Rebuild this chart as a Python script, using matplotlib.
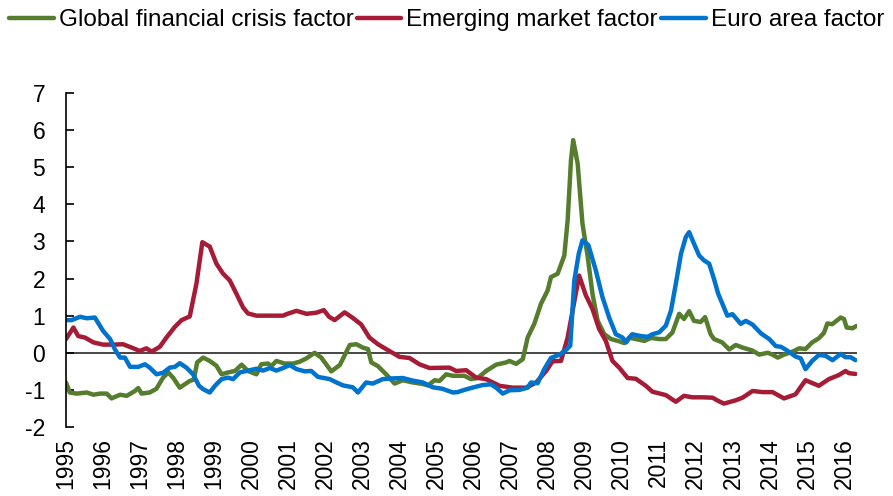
import matplotlib
matplotlib.use("Agg")
import matplotlib.pyplot as plt

plt.rcParams['font.family'] = ['Liberation Sans', 'DejaVu Sans']
plt.rcParams['axes.unicode_minus'] = False

series_names = ["Global financial crisis factor", "Emerging market factor", "Euro area factor"]
years = list(range(1995, 2017))

gfc_t = [1995.0, 1995.1, 1995.29, 1995.56, 1995.74, 1995.92, 1996.1, 1996.23, 1996.46, 1996.64,
         1996.86, 1996.95, 1997.04, 1997.26, 1997.44, 1997.62, 1997.76, 1997.89, 1998.07, 1998.34,
         1998.45, 1998.54, 1998.7, 1998.88, 1999.06, 1999.2, 1999.37, 1999.56, 1999.74, 1999.91,
         2000.14, 2000.27, 2000.45, 2000.54, 2000.68, 2000.9, 2001.13, 2001.31, 2001.49, 2001.71,
         2001.89, 2002.16, 2002.39, 2002.66, 2002.84, 2003.01, 2003.15, 2003.24, 2003.42, 2003.64,
         2003.87, 2004.09, 2004.36, 2004.63, 2004.77, 2004.95, 2005.08, 2005.26, 2005.44, 2005.6,
         2005.75, 2005.93, 2006.11, 2006.34, 2006.61, 2006.88, 2006.97, 2007.15, 2007.33, 2007.46,
         2007.64, 2007.82, 2008.0, 2008.09, 2008.27, 2008.45, 2008.54, 2008.63, 2008.69, 2008.81,
         2008.94, 2009.08, 2009.21, 2009.35, 2009.53, 2009.71, 2009.93, 2010.07, 2010.2, 2010.38,
         2010.61, 2010.79, 2011.01, 2011.19, 2011.37, 2011.55, 2011.68, 2011.82, 2011.95, 2012.13,
         2012.25, 2012.4, 2012.49, 2012.71, 2012.9, 2013.08, 2013.26, 2013.53, 2013.71, 2013.94,
         2014.07, 2014.21, 2014.38, 2014.61, 2014.79, 2014.96, 2015.14, 2015.32, 2015.46, 2015.55,
         2015.68, 2015.91, 2016.0, 2016.07, 2016.23, 2016.33]
gfc_v = [-0.8, -1.07, -1.1, -1.07, -1.13, -1.1, -1.1, -1.23, -1.13, -1.16,
         -1.03, -0.95, -1.1, -1.07, -0.97, -0.67, -0.53, -0.67, -0.94, -0.76,
         -0.72, -0.26, -0.13, -0.22, -0.35, -0.58, -0.53, -0.49, -0.32, -0.49,
         -0.58, -0.31, -0.29, -0.36, -0.22, -0.29, -0.29, -0.24, -0.15, 0.0,
         -0.13, -0.5, -0.33, 0.21, 0.23, 0.14, 0.10, -0.26, -0.36, -0.58,
         -0.83, -0.74, -0.80, -0.84, -0.88, -0.74, -0.76, -0.58, -0.62, -0.62,
         -0.62, -0.71, -0.68, -0.49, -0.32, -0.26, -0.22, -0.30, -0.17, 0.41,
         0.78, 1.32, 1.68, 2.04, 2.13, 2.62, 3.57, 5.19, 5.73, 5.1,
         3.48, 2.6, 1.59, 0.86, 0.5, 0.37, 0.31, 0.26, 0.41, 0.37,
         0.32, 0.40, 0.37, 0.37, 0.55, 1.05, 0.91, 1.12, 0.86, 0.83,
         0.96, 0.50, 0.37, 0.28, 0.09, 0.21, 0.14, 0.06, -0.05, 0.0,
         -0.05, -0.13, -0.05, 0.03, 0.12, 0.10, 0.28, 0.39, 0.54, 0.79,
         0.77, 0.95, 0.91, 0.68, 0.66, 0.72]

em_t = [1995.0, 1995.2, 1995.33, 1995.51, 1995.74, 1996.0, 1996.27, 1996.54, 1996.77, 1996.99,
        1997.17, 1997.31, 1997.53, 1997.71, 1997.94, 1998.12, 1998.34, 1998.52, 1998.68, 1998.88,
        1999.06, 1999.24, 1999.42, 1999.6, 1999.78, 1999.91, 2000.14, 2000.86, 2000.95, 2001.22,
        2001.49, 2001.76, 2001.96, 2002.1, 2002.25, 2002.52, 2002.74, 2002.97, 2003.19, 2003.42,
        2003.64, 2004.0, 2004.27, 2004.54, 2004.81, 2005.35, 2005.53, 2005.8, 2006.07, 2006.34,
        2006.7, 2007.06, 2007.42, 2007.69, 2007.96, 2008.13, 2008.36, 2008.54, 2008.69, 2008.85,
        2009.03, 2009.21, 2009.39, 2009.57, 2009.75, 2009.93, 2010.16, 2010.38, 2010.65, 2010.83,
        2011.19, 2011.46, 2011.68, 2011.91, 2012.18, 2012.45, 2012.61, 2012.76, 2013.08, 2013.26,
        2013.53, 2013.8, 2014.07, 2014.38, 2014.69, 2014.96, 2015.32, 2015.59, 2015.86, 2016.04,
        2016.13, 2016.31]
em_v = [0.37, 0.68, 0.45, 0.41, 0.28, 0.22, 0.22, 0.23, 0.14, 0.05,
        0.12, 0.03, 0.16, 0.41, 0.70, 0.88, 0.98, 1.86, 2.98, 2.86,
        2.4, 2.13, 1.95, 1.59, 1.22, 1.06, 1.0, 1.0, 1.04, 1.13,
        1.05, 1.08, 1.15, 0.97, 0.88, 1.09, 0.94, 0.76, 0.41, 0.23,
        0.10, -0.11, -0.14, -0.31, -0.41, -0.40, -0.49, -0.47, -0.67, -0.71,
        -0.89, -0.94, -0.94, -0.80, -0.49, -0.23, -0.22, 0.41, 1.22, 2.08,
        1.55, 1.18, 0.64, 0.32, -0.22, -0.40, -0.68, -0.70, -0.89, -1.05,
        -1.14, -1.32, -1.16, -1.20, -1.20, -1.21, -1.30, -1.37, -1.28, -1.21,
        -1.03, -1.06, -1.06, -1.23, -1.12, -0.74, -0.89, -0.71, -0.60, -0.49,
        -0.55, -0.57]

ea_t = [1995.0, 1995.15, 1995.38, 1995.56, 1995.78, 1996.0, 1996.19, 1996.32, 1996.46, 1996.59,
        1996.73, 1996.95, 1997.13, 1997.26, 1997.44, 1997.62, 1997.8, 1997.94, 1998.07, 1998.25,
        1998.43, 1998.59, 1998.7, 1998.88, 1999.02, 1999.2, 1999.37, 1999.51, 1999.69, 1999.87,
        2000.14, 2000.32, 2000.5, 2000.68, 2000.86, 2001.04, 2001.22, 2001.44, 2001.62, 2001.8,
        2002.12, 2002.3, 2002.48, 2002.74, 2002.88, 2003.1, 2003.28, 2003.55, 2003.82, 2004.09,
        2004.36, 2004.63, 2004.9, 2005.16, 2005.44, 2005.57, 2005.75, 2005.97, 2006.24, 2006.47,
        2006.61, 2006.79, 2006.97, 2007.24, 2007.46, 2007.55, 2007.73, 2007.91, 2008.09, 2008.32,
        2008.5, 2008.61, 2008.72, 2008.84, 2008.94, 2009.1, 2009.3, 2009.48, 2009.66, 2009.84,
        2010.02, 2010.12, 2010.28, 2010.51, 2010.7, 2010.83, 2011.01, 2011.19, 2011.33, 2011.46,
        2011.6, 2011.73, 2011.82, 2011.95, 2012.09, 2012.22, 2012.36, 2012.49, 2012.6, 2012.7,
        2012.85, 2012.99, 2013.21, 2013.35, 2013.53, 2013.76, 2013.98, 2014.16, 2014.3, 2014.48,
        2014.69, 2014.83, 2014.96, 2015.14, 2015.32, 2015.5, 2015.69, 2015.91, 2016.04, 2016.18,
        2016.31]
ea_v = [0.88, 0.88, 0.97, 0.93, 0.95, 0.59, 0.37, 0.09, -0.13, -0.13,
        -0.38, -0.38, -0.31, -0.40, -0.58, -0.54, -0.40, -0.38, -0.28, -0.40,
        -0.58, -0.89, -0.98, -1.07, -0.89, -0.71, -0.67, -0.71, -0.53, -0.49,
        -0.43, -0.48, -0.41, -0.48, -0.41, -0.33, -0.44, -0.50, -0.49, -0.65,
        -0.71, -0.80, -0.88, -0.93, -1.07, -0.80, -0.83, -0.71, -0.69, -0.68,
        -0.75, -0.80, -0.93, -0.97, -1.07, -1.06, -1.00, -0.94, -0.87, -0.85,
        -0.94, -1.10, -1.01, -1.00, -0.94, -0.80, -0.82, -0.44, -0.14, -0.05,
        0.08, 0.19, 1.95, 2.67, 3.03, 2.90, 2.22, 1.50, 0.95, 0.50,
        0.41, 0.28, 0.50, 0.45, 0.43, 0.50, 0.55, 0.73, 1.14, 1.86,
        2.67, 3.12, 3.25, 2.94, 2.62, 2.49, 2.40, 1.99, 1.60, 1.36,
        1.0, 1.04, 0.78, 0.86, 0.76, 0.52, 0.37, 0.18, 0.16, 0.05,
        -0.10, -0.15, -0.44, -0.22, -0.06, -0.08, -0.20, -0.03, -0.12, -0.12,
        -0.20]

colors = ["#557D2D", "#A61C36", "#0073CF"]

fig = plt.figure(figsize=(8.93, 4.96), dpi=100)
ax = fig.add_axes([66 / 893, (496 - 427) / 496, (857 - 66) / 893, (427 - 93) / 496])

lines = []
for t, v, c, name in zip([gfc_t, em_t, ea_t], [gfc_v, em_v, ea_v], colors, series_names):
    ln, = ax.plot(t, v, color=c, lw=3.2, label=name, solid_joinstyle='round', solid_capstyle='round')
    lines.append(ln)

ax.axhline(0, color="#262626", lw=1.2, zorder=1)
ax.set_ylim(-2, 7)
ax.set_xlim(1995.0, 2016.35)
ax.set_yticks(range(-2, 8))
ax.set_yticklabels([str(i) for i in range(-2, 8)])
ax.set_xticks(years)
ax.set_xticklabels([str(y) for y in years], rotation=90)

for s in ["top", "right", "bottom"]:
    ax.spines[s].set_visible(False)
ax.spines["left"].set_linewidth(1.2)
ax.tick_params(axis="y", direction="in", length=6, width=1.2, pad=15, labelsize=16.5)
ax.tick_params(axis="x", length=0, pad=8, labelsize=16.5)

fig.legend(handles=lines, loc="center", bbox_to_anchor=(0.5, 1 - 20 / 496), ncol=3,
           frameon=False, fontsize=17.5, handlelength=1.85, handletextpad=0.2,
           columnspacing=0.12, borderaxespad=0, borderpad=0)

fig.savefig("out.png", dpi=100)
